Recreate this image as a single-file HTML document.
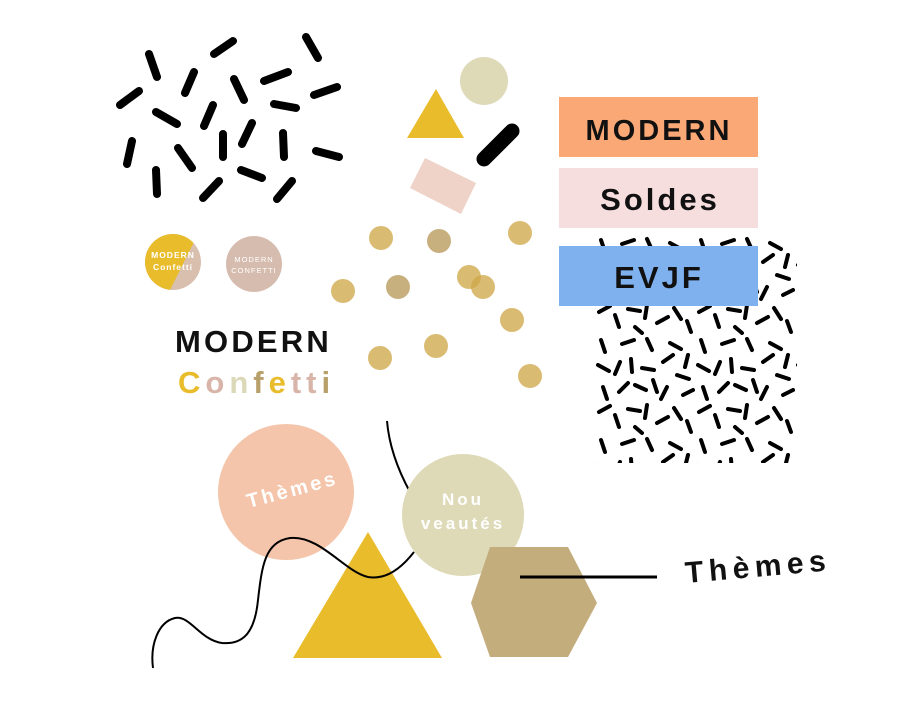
<!DOCTYPE html>
<html><head><meta charset="utf-8"><style>
html,body{margin:0;padding:0;background:#fff;}
svg{display:block;}
text{font-family:"Liberation Sans","DejaVu Sans",sans-serif;}
</style></head><body>
<svg width="900" height="705" viewBox="0 0 900 705" xmlns="http://www.w3.org/2000/svg">
<defs>
<pattern id="dash" x="595" y="235" width="100" height="100" patternUnits="userSpaceOnUse">
<g stroke="#000" stroke-width="4" stroke-linecap="round" fill="none">
<path d="M6 5L10 17M27 9L39 5M52 4L57 15M75 8L86 14M93 20L90 32M3 30L14 36M25 27L20 39M36 24L37 37M47 33L59 35M68 27L78 20M82 40L94 44M8 52L12 64M24 57L33 48M40 50L51 55M58 45L62 57M72 52L66 64M88 60L98 55M4 77L15 71M20 80L24 92M33 74L45 76M52 70L50 83M62 88L73 82M79 73L86 84M92 86L96 97M40 92L47 98"/>
</g>
</pattern>
</defs>
<g stroke="#000" stroke-width="8" stroke-linecap="round" fill="none">
<path d="M149 54L157 77M214 54L233 41M306 37L318 58M120 105L139 91M185 93L194 72M234 79L244 100M264 81L288 72M314 95L337 87M156 112L177 124M213 105L204 126M274 104L296 108M132 141L127 164M178 148L192 168M223 134L223 157M252 123L242 144M283 133L284 157M316 151L339 157M156 170L157 194M203 198L219 181M241 170L262 178M277 199L292 181"/>
</g>
<clipPath id="c1"><circle cx="173" cy="262" r="28"/></clipPath>
<g clip-path="url(#c1)">
<rect x="140" y="230" width="70" height="70" fill="#d9bfae"/>
<polygon points="140,230 200,230 165,300 140,300" fill="#e9bc2c"/>
</g>
<text x="173" y="258" font-size="8.5" font-weight="bold" fill="#fff" text-anchor="middle" letter-spacing="1">MODERN</text>
<text x="173" y="270" font-size="8.5" font-weight="bold" fill="#fff" text-anchor="middle" letter-spacing="1">Confetti</text>
<circle cx="254" cy="264" r="28" fill="#d6bcae"/>
<text x="254" y="262" font-size="7.5" fill="#fff" text-anchor="middle" letter-spacing="1">MODERN</text>
<text x="254" y="273" font-size="7.5" fill="#fff" text-anchor="middle" letter-spacing="1">CONFETTI</text>
<text x="175" y="352" font-size="31" font-weight="bold" fill="#111" letter-spacing="3.2">MODERN</text>
<text x="178" y="393" font-size="31" font-weight="bold" letter-spacing="5"><tspan fill="#e9bc2c">C</tspan><tspan fill="#d8b5a8">o</tspan><tspan fill="#dcd9b8">n</tspan><tspan fill="#b8a06a">f</tspan><tspan fill="#e9bc2c">e</tspan><tspan fill="#d8b5a8">t</tspan><tspan fill="#d8b5a8">t</tspan><tspan fill="#b8a06a">i</tspan></text>
<circle cx="484" cy="81" r="24" fill="#dedab8"/>
<polygon points="436,89 464,138 407,138" fill="#e9bc2c"/>
<path d="M484 159L512 131" stroke="#000" stroke-width="15" stroke-linecap="round"/>
<polygon points="425,158 476,183 461,214 410,188" fill="#efd2c8"/>
<g fill="#d0a84a" fill-opacity="0.78">
<circle cx="381" cy="238" r="12"/><circle cx="439" cy="241" r="12" fill="#b99a5a"/><circle cx="520" cy="233" r="12"/>
<circle cx="343" cy="291" r="12"/><circle cx="398" cy="287" r="12" fill="#b99a5a"/><circle cx="469" cy="277" r="12"/><circle cx="483" cy="287" r="12"/>
<circle cx="512" cy="320" r="12"/><circle cx="380" cy="358" r="12"/><circle cx="436" cy="346" r="12"/><circle cx="530" cy="376" r="12"/>
</g>
<rect x="595" y="235" width="202" height="228" fill="url(#dash)"/>
<rect x="559" y="97" width="199" height="60" fill="#fba877"/>
<text x="659" y="140" font-size="29" font-weight="bold" fill="#111" text-anchor="middle" letter-spacing="3">MODERN</text>
<rect x="559" y="168" width="199" height="60" fill="#f7dede"/>
<text x="660" y="210" font-size="31" font-weight="bold" fill="#111" text-anchor="middle" letter-spacing="3">Soldes</text>
<rect x="559" y="246" width="199" height="60" fill="#7fb1ee"/>
<text x="659" y="288" font-size="31" font-weight="bold" fill="#111" text-anchor="middle" letter-spacing="3">EVJF</text>
<circle cx="286" cy="492" r="68" fill="#f4c5ab"/>
<text x="0" y="0" font-size="20" font-weight="bold" fill="#fff" text-anchor="middle" letter-spacing="3" transform="translate(294 496) rotate(-15)">Thèmes</text>
<polygon points="368,532 442,658 293,658" fill="#e9bc2c"/>
<path d="M387 421C389 445 398 470 410 492M414 552C400 570 385 580 368 577C345 572 320 535 290 538C265 542 262 565 258 600C255 630 245 645 222 643C200 640 190 615 175 618C158 622 150 645 153 668" stroke="#000" stroke-width="2" fill="none"/>
<circle cx="463" cy="515" r="61" fill="#dedab8"/>
<text x="463" y="505" font-size="17" font-weight="bold" fill="#fff" text-anchor="middle" letter-spacing="3">Nou</text>
<text x="463" y="529" font-size="17" font-weight="bold" fill="#fff" text-anchor="middle" letter-spacing="3">veautés</text>
<polygon points="490,547 568,547 597,603 568,657 490,657 471,603" fill="#c4ad7d"/>
<path d="M520 577L657 577" stroke="#000" stroke-width="3"/>
<text x="0" y="0" font-size="30" font-weight="bold" fill="#111" letter-spacing="5.5" transform="translate(686 583) rotate(-5)">Thèmes</text>
</svg>
</body></html>
